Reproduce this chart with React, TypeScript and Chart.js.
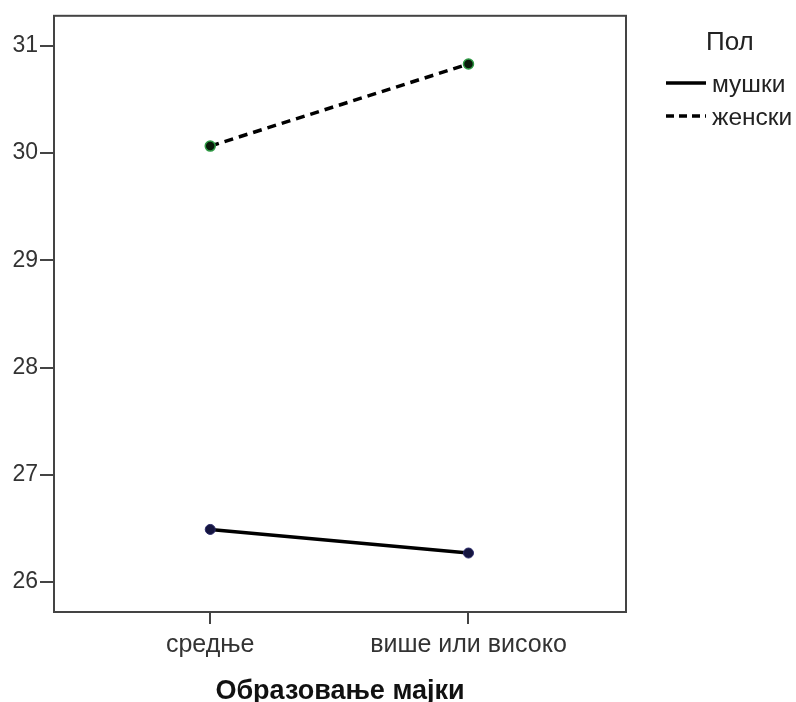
import React, { useEffect, useRef } from "react";
import { Chart, registerables } from "chart.js";

Chart.register(...registerables);

const categories = ["средње", "више или високо"];
const seriesNames = ["мушки", "женски"];
const maleValues = [26.49, 26.27];
const femaleValues = [30.065, 30.83];
const yTicks = [26, 27, 28, 29, 30, 31];
const xTitle = "Образовање мајки";
const legendTitle = "Пол";

const FONT = "'Liberation Sans', Arial, sans-serif";

export default function App() {
  const ref = useRef<HTMLCanvasElement | null>(null);

  useEffect(() => {
    document.body.style.margin = "0";
    const canvas = ref.current!;
    const frame = {
      id: "frame",
      afterDatasetsDraw(chart: any) {
        const { ctx, chartArea: a } = chart;
        ctx.save();
        ctx.strokeStyle = "#444";
        ctx.lineWidth = 2;
        ctx.strokeRect(a.left, a.top, a.right - a.left, a.bottom - a.top);
        ctx.restore();
      },
    };
    const legend = {
      id: "spssLegend",
      afterDraw(chart: any) {
        const { ctx, chartArea: a } = chart;
        ctx.save();
        ctx.fillStyle = "#222";
        ctx.textBaseline = "middle";
        ctx.textAlign = "left";
        const x0 = a.right + 40;
        ctx.font = `26px ${FONT}`;
        ctx.fillText(legendTitle, 706, 43);
        ctx.font = `24.5px ${FONT}`;
        const rows = [
          { name: seriesNames[0], dash: [] as number[], y: 83 },
          { name: seriesNames[1], dash: [8, 5], y: 116 },
        ];
        rows.forEach((r) => {
          ctx.strokeStyle = "#000";
          ctx.lineWidth = 3.5;
          ctx.setLineDash(r.dash);
          ctx.beginPath();
          ctx.moveTo(x0, r.y);
          ctx.lineTo(x0 + 40, r.y);
          ctx.stroke();
          ctx.setLineDash([]);
          ctx.fillText(r.name, x0 + 46, r.y + 2);
        });
        ctx.restore();
      },
    };
    const chart = new Chart(canvas, {
      type: "line",
      data: {
        datasets: [
          {
            label: seriesNames[0],
            data: maleValues.map((v, i) => ({ x: i, y: v })),
            borderColor: "#000",
            borderWidth: 3.5,
            pointRadius: 5,
            pointBackgroundColor: "#15153f",
            pointBorderColor: "#2a2a6a",
            pointBorderWidth: 1,
          },
          {
            label: seriesNames[1],
            data: femaleValues.map((v, i) => ({ x: i, y: v })),
            borderColor: "#000",
            borderWidth: 3.5,
            borderDash: [9, 6],
            pointRadius: 5,
            pointBackgroundColor: "#0a1a0a",
            pointBorderColor: "#2f9a45",
            pointBorderWidth: 1.5,
          },
        ],
      },
      options: {
        animation: false,
        responsive: false,
        events: [],
        layout: { padding: { top: 13, right: 170, left: 0, bottom: 0 } },
        plugins: { legend: { display: false }, tooltip: { enabled: false } },
        scales: {
          x: {
            type: "linear",
            min: -0.605,
            max: 1.61,
            afterBuildTicks(s: any) {
              s.ticks = categories.map((_, i) => ({ value: i }));
            },
            afterFit(s: any) {
              s.height = 90;
            },
            ticks: {
              callback: (v: any) => categories[v as number] ?? "",
              font: { family: FONT, size: 25 },
              color: "#333",
              padding: 6,
              maxRotation: 0,
            },
            grid: {
              drawOnChartArea: false,
              drawTicks: true,
              tickLength: 12,
              color: "#444",
              lineWidth: 2,
            },
            border: { display: false },
            title: {
              display: true,
              text: xTitle,
              font: { family: FONT, size: 27, weight: "bold" },
              color: "#111",
              padding: { top: 8, bottom: -6 },
            },
          },
          y: {
            min: 25.72,
            max: 31.28,
            afterBuildTicks(s: any) {
              s.ticks = yTicks.map((v) => ({ value: v }));
            },
            afterFit(s: any) {
              s.width = 54;
            },
            ticks: {
              font: { family: FONT, size: 23 },
              color: "#333",
              padding: 2,
            },
            grid: {
              drawOnChartArea: false,
              drawTicks: true,
              tickLength: 14,
              color: "#444",
              lineWidth: 2,
            },
            border: { display: false },
          },
        },
      },
      plugins: [frame, legend],
    });
    return () => chart.destroy();
  }, []);

  return <canvas ref={ref} width={796} height={702} style={{ display: "block" }} />;
}
